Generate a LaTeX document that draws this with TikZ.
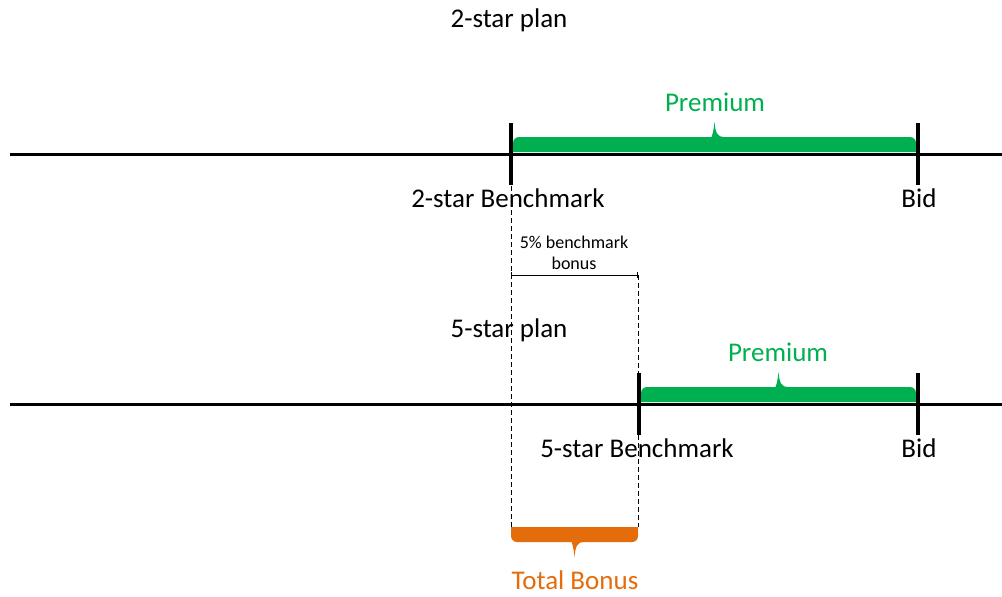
\documentclass[tikz,border=0pt]{standalone}
\usepackage{fontspec}
\setmainfont{Carlito}
\usetikzlibrary{calc,arrows.meta}

\definecolor{premgreen}{HTML}{00B050}
\definecolor{bonusorange}{HTML}{E46C0A}

% flat brace between two points, #3 = 1 (down) or -1 (up)
\newcommand\bandbrace[4]{%
\path (#1) coordinate (bl) (#2) coordinate (br) ($(bl)!.5!(br)$) coordinate (bm);
\fill[#4] (bl) [rounded corners=6pt] -- ($(bl)+(0,15*#3)$) -- ($(bm)+(-9,15*#3)$) [sharp corners]
  .. controls ($(bm)+(-3,15*#3)$) and ($(bm)+(-1,19*#3)$) .. ($(bm)+(0,30*#3)$)
  .. controls ($(bm)+(1,19*#3)$) and ($(bm)+(3,15*#3)$) .. ($(bm)+(9,15*#3)$)
  [rounded corners=6pt] -- ($(br)+(0,15*#3)$) [sharp corners] -- (br) -- cycle;}

\begin{document}
\begin{tikzpicture}[x=1pt,y=-1pt,
axis/.style={line width=3pt},
tickline/.style={line width=3.5pt},
guide/.style={line width=1pt,dash pattern=on 5pt off 3pt},
lbl/.style={font=\fontsize{27}{32}\selectfont,inner sep=0pt},
small/.style={font=\fontsize{18}{21}\selectfont,align=center,inner sep=0pt}]
\useasboundingbox (0,0) rectangle (1002,597);

\coordinate (l1) at (10,154); \coordinate (r1) at (1002,154);
\coordinate (bench2) at (511,154); \coordinate (bid1) at (918,154);
\coordinate (l2) at (10,404); \coordinate (r2) at (1002,404);
\coordinate (bench5) at (639,404); \coordinate (bid2) at (918,404);
\coordinate (k1) at (511,275); \coordinate (k2) at (638,275);
\coordinate (g1) at (511,527); \coordinate (g2) at (638,527);

% guides and bonus bracket
\draw[guide] (bench2) -- (g1);
\draw[guide] (k2) -- (g2);
\draw[line width=0.8pt,{Bar[width=6pt]}-{Bar[width=6pt]}] (k1) -- (k2);
\node[small] (pct) at (574,253) {5\% benchmark\\bonus};

% 2-star plan
\node[lbl] (plan2) at (509,20) {2-star plan};
\bandbrace{513,152}{916,152}{-1}{premgreen}
\node[lbl,text=premgreen] (prem1) at (715,102) {Premium};
\draw[axis] (l1) -- (r1);
\foreach \p in {bench2,bid1} \draw[tickline] ([yshift=31pt]\p) -- ([yshift=-31pt]\p);
\node[lbl] (bench2txt) at (508,198) {2-star Benchmark};
\node[lbl] (bid1txt) at (919,198) {Bid};

% 5-star plan
\node[lbl] (plan5) at (509,330) {5-star plan};
\bandbrace{641,402}{916,402}{-1}{premgreen}
\node[lbl,text=premgreen] (prem2) at (778,352) {Premium};
\draw[axis] (l2) -- (r2);
\foreach \p in {bench5,bid2} \draw[tickline] ([yshift=31pt]\p) -- ([yshift=-31pt]\p);
\node[lbl] (bench5txt) at (637,448) {5-star Benchmark};
\node[lbl] (bid2txt) at (919,448) {Bid};

% total bonus
\bandbrace{g1}{g2}{1}{bonusorange}
\node[lbl,text=bonusorange] (total) at (575,580) {Total Bonus};
\end{tikzpicture}
\end{document}
